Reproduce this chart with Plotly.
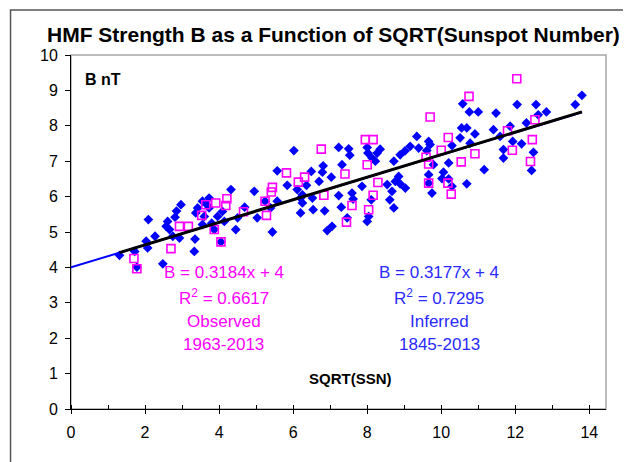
import plotly.graph_objects as go

# Inferred HMF B (1845-2013) vs sqrt(sunspot number)
inferred_x = [1.31, 1.72, 1.78, 2.03, 2.07, 2.09, 2.27, 2.48, 2.57, 2.61, 2.66, 2.75, 2.81, 2.85,
              2.97, 2.93, 3.35, 3.33, 3.42, 3.55, 3.60, 3.37, 3.73, 3.73, 3.87, 4.05, 3.96, 4.14,
              4.45, 5.03, 4.32, 4.95, 3.67, 4.09, 3.80, 3.55, 4.69, 4.50, 5.24, 5.57, 5.39, 5.44,
              5.57, 6.02, 5.84, 6.11, 6.25, 6.20, 6.20, 6.25, 6.36, 6.49, 6.52, 6.54, 6.70, 6.79,
              6.81, 6.85, 6.92, 7.05, 7.03, 7.23, 7.30, 7.32, 7.23, 7.50, 7.53, 7.46, 7.59, 7.62,
              7.86, 8.00, 8.02, 8.13, 8.22, 8.27, 8.35, 8.11, 8.04, 8.00, 8.54, 8.67, 8.61, 8.72,
              8.76, 8.85, 8.72, 8.89, 9.02, 9.16, 9.34, 9.39, 9.66, 9.70, 9.61, 8.89, 9.03, 9.66,
              9.75, 9.66, 9.79, 10.06, 10.02, 10.20, 10.29, 10.20, 10.29, 10.51, 10.55, 10.69, 10.91,
              10.78, 10.58, 10.76, 11.00, 11.48, 11.41, 10.69, 11.16, 11.68, 11.68, 11.86, 11.59,
              11.93, 12.17, 12.30, 12.05, 12.56, 12.84, 12.62, 12.49, 12.44, 13.62, 13.80]
inferred_y = [4.34, 4.45, 4.01, 4.74, 4.55, 5.35, 4.88, 4.10, 5.16, 5.30, 5.07, 4.88, 5.42, 5.59,
              5.77, 4.83, 4.80, 4.45, 5.68, 5.87, 5.44, 5.54, 5.68, 5.96, 5.07, 4.72, 5.44, 5.30,
              5.07, 5.40, 6.20, 6.15, 5.77, 5.58, 5.25, 5.21, 5.70, 5.40, 5.87, 5.87, 5.68, 5.00,
              6.73, 7.30, 6.32, 6.20, 6.05, 5.54, 5.96, 5.82, 6.32, 6.71, 5.96, 5.63, 6.43, 6.69,
              6.87, 5.60, 5.04, 5.16, 6.55, 6.03, 5.70, 6.90, 7.39, 7.35, 7.17, 5.40, 6.10, 5.93,
              6.29, 7.39, 7.23, 7.09, 7.00, 7.23, 7.34, 5.91, 5.44, 5.30, 6.34, 6.15, 5.91, 5.68,
              6.43, 6.57, 7.00, 7.18, 7.29, 7.42, 7.70, 7.37, 7.56, 7.47, 7.30, 6.36, 6.24, 6.62,
              6.10, 6.38, 6.90, 6.69, 6.51, 6.50, 6.29, 6.95, 7.44, 7.66, 7.94, 7.94, 7.77,
              7.51, 8.62, 8.39, 8.39, 8.36, 7.89, 6.36, 6.76, 7.33, 7.09, 7.99, 7.70,
              7.56, 7.49, 8.08, 8.60, 8.60, 8.39, 8.31, 7.25, 6.74, 8.60, 8.86]

# Observed HMF B (1963-2013)
observed_x = [1.70, 1.78, 2.70, 2.93, 3.17, 3.53, 3.64, 3.87, 4.05, 3.91, 4.21, 4.18, 4.66, 5.24,
              5.28, 5.44, 5.41, 5.82, 6.14, 6.31, 6.76, 6.83, 7.40, 7.59, 7.44, 7.95, 8.16, 8.00,
              8.29, 8.16, 8.04, 9.70, 10.00, 10.19, 9.59, 9.66, 9.66, 10.18, 10.27, 10.54, 10.91,
              10.75, 11.79, 12.04, 12.53, 12.46, 11.92, 12.41]
observed_y = [4.25, 3.96, 4.53, 5.16, 5.16, 5.47, 5.77, 5.07, 4.72, 5.82, 5.94, 5.75, 5.57, 5.87,
              5.47, 6.26, 6.13, 6.67, 6.41, 6.55, 7.34, 6.04, 6.64, 5.75, 5.28, 7.61, 7.61, 6.90,
              6.40, 6.04, 5.63, 8.25, 7.31, 7.67, 7.11, 6.92, 6.38, 6.38, 6.07, 6.98, 7.21,
              8.83, 7.86, 9.33, 8.17, 7.61, 7.31, 6.99]

# regression results shown on the chart
obs_slope, obs_icpt, obs_r2 = 0.3184, 4, 0.6617
inf_slope, inf_icpt, inf_r2 = 0.3177, 4, 0.7295

x_ticks = [0, 2, 4, 6, 8, 10, 12, 14]
y_ticks = list(range(0, 11))

FONT = "Liberation Sans, Arial, sans-serif"
MAGENTA = "#ff00ff"
BLUE = "#0000ff"
BLUE_TXT = "#2a2aff"

x_lo, x_hi = min(inferred_x), max(inferred_x)

fig = go.Figure()

# inferred trend, extended back to x = 0
fig.add_trace(go.Scatter(
    x=[0, x_hi], y=[inf_icpt, inf_icpt + inf_slope * x_hi],
    mode="lines", line=dict(color=BLUE, width=2), hoverinfo="skip",
))
fig.add_trace(go.Scatter(
    x=inferred_x, y=inferred_y, mode="markers", name="Inferred",
    marker=dict(symbol="diamond", size=7.5, color=BLUE, line=dict(width=0)),
))
fig.add_trace(go.Scatter(
    x=observed_x, y=observed_y, mode="markers", name="Observed",
    marker=dict(symbol="square-open", size=8, color=MAGENTA, line=dict(width=1.6, color=MAGENTA)),
))
# observed trend over the data span
fig.add_trace(go.Scatter(
    x=[x_lo, x_hi], y=[obs_icpt + obs_slope * x_lo, obs_icpt + obs_slope * x_hi],
    mode="lines", line=dict(color="black", width=3), hoverinfo="skip",
))

def block(x, lines, color):
    ys = [3.86, 3.16, 2.48, 1.82]
    for y, t in zip(ys, lines):
        fig.add_annotation(x=x, y=y, xref="x", yref="y", text=t, showarrow=False,
                           font=dict(family=FONT, size=17, color=color))

block(4.12, [f"B = {obs_slope}x + {obs_icpt}", f"R<sup>2</sup> = {obs_r2}",
             "Observed", "1963-2013"], MAGENTA)
block(9.95, [f"B = {inf_slope}x + {inf_icpt}", f"R<sup>2</sup> = {inf_r2}",
             "Inferred", "1845-2013"], BLUE_TXT)

fig.add_annotation(x=0.33, y=9.3, xref="x", yref="y", xanchor="left",
                   text="<b>B nT</b>", showarrow=False, font=dict(family=FONT, size=16, color="black"))
fig.add_annotation(x=7.55, y=0.86, xref="x", yref="y",
                   text="<b>SQRT(SSN)</b>", showarrow=False, font=dict(family=FONT, size=15, color="black"))
fig.add_annotation(x=0.49, y=1.095, xref="paper", yref="paper",
                   text="<b>HMF Strength B as a Function of SQRT(Sunspot Number)</b>",
                   showarrow=False, font=dict(family=FONT, size=21, color="black"))

# plot-area frame and outer chart border
fig.add_shape(type="rect", xref="paper", yref="paper", x0=0, y0=0, x1=1, y1=1,
              line=dict(color="#a6a6a6", width=1.5), layer="below")
fig.add_shape(type="rect", xref="paper", yref="paper", x0=-0.113, y0=-0.162, x1=1.058, y1=1.127,
              line=dict(color="#555555", width=1.5))

fig.update_xaxes(range=[0, 14.45], tickvals=x_ticks, showgrid=False, zeroline=False,
                 showline=True, linecolor="black", linewidth=1,
                 ticks="outside", ticklen=4, tickcolor="black",
                 minor=dict(dtick=1, ticks="inside", ticklen=4, tickcolor="black"),
                 tickfont=dict(family=FONT, size=16, color="black"), ticklabelstandoff=5)
fig.update_yaxes(range=[0, 10], tickvals=y_ticks, showgrid=False, zeroline=False,
                 showline=True, linecolor="black", linewidth=1,
                 ticks="outside", ticklen=5, tickcolor="black",
                 tickfont=dict(family=FONT, size=16, color="black"), ticklabelstandoff=4)

fig.update_layout(
    width=631, height=462,
    margin=dict(l=63, r=33, t=47, b=61),
    paper_bgcolor="white", plot_bgcolor="white",
    showlegend=False,
    font=dict(family=FONT),
)

fig.write_html("out.html")
